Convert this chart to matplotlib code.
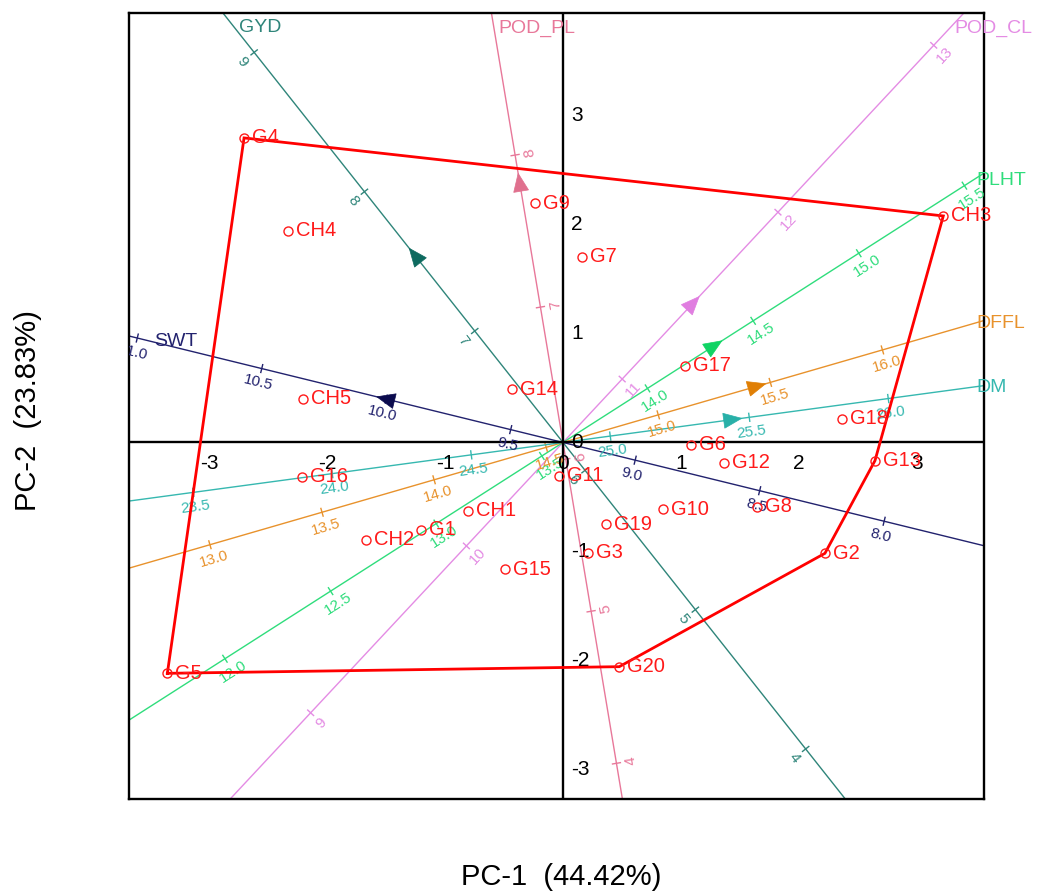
import numpy as np
import matplotlib
matplotlib.use("Agg")
import matplotlib.pyplot as plt
from matplotlib.patches import Polygon
from matplotlib.transforms import offset_copy

plt.rcParams['font.family'] = ['Liberation Sans', 'DejaVu Sans']

# Genotype scores on the first two principal components
genotypes = ["G1", "G2", "G3", "G4", "G5", "G6", "G7", "G8", "G9", "G10",
             "G11", "G12", "G13", "G14", "G15", "G16", "G17", "G18", "G19", "G20",
             "CH1", "CH2", "CH3", "CH4", "CH5"]
pc1 = [-1.201, 2.220, 0.215, -2.703, -3.353, 1.082, 0.158, 1.641, -0.240, 0.845,
       -0.031, 1.364, 2.644, -0.430, -0.494, -2.212, 1.034, 2.362, 0.362, 0.477,
       -0.805, -1.672, 3.223, -2.331, -2.203]
pc2 = [-0.803, -1.017, -1.011, 2.794, -2.118, -0.023, 1.705, -0.589, 2.194, -0.613,
       -0.307, -0.185, -0.167, 0.488, -1.163, -0.314, 0.702, 0.216, -0.751, -2.057,
       -0.628, -0.894, 2.078, 1.943, 0.399]

# Trait vectors and their calibrated axes
traits = ["GYD", "POD_PL", "POD_CL", "PLHT", "DFFL", "DM", "SWT"]
trait_pc1 = [-1.250, -0.366, 1.096, 1.275, 1.636, 1.430, -1.495]
trait_pc2 = [1.709, 2.378, 1.271, 0.883, 0.513, 0.209, 0.397]
trait_center = [6.20, 6.11, 10.62, 13.60, 14.575, 24.83, 9.29]   # value at the origin
trait_unit_len = [1.5835, 1.4115, 2.0215, 2.178, 1.991, 2.381, 2.183]  # biplot length per trait unit
trait_ticks = [
    [4, 5, 6, 7, 8, 9],
    [4, 5, 6, 7, 8],
    [9, 10, 11, 12, 13],
    [12.0, 12.5, 13.0, 13.5, 14.0, 14.5, 15.0, 15.5],
    [13.0, 13.5, 14.0, 14.5, 15.0, 15.5, 16.0],
    [23.5, 24.0, 24.5, 25.0, 25.5, 26.0],
    [8.0, 8.5, 9.0, 9.5, 10.0, 10.5, 11.0],
]
trait_decimals = [0, 0, 0, 1, 1, 1, 1]
line_colors = ["#2f857a", "#e8789a", "#e48ce4", "#2fdd7c", "#e8922c", "#36b8b0", "#22226e"]
arrow_colors = ["#0e6a5f", "#e0708e", "#e07ee0", "#10d464", "#e07f05", "#28b0a8", "#0b0b4e"]

axis_ticks = [-3, -2, -1, 0, 1, 2, 3]
xlim = (-3.678, 3.568)
ylim = (-3.271, 3.940)

fig = plt.figure(figsize=(10.4, 8.91), dpi=100)
ax = fig.add_axes([129 / 1040, 92 / 891, 855 / 1040, 786 / 891])
ax.set_xlim(*xlim)
ax.set_ylim(*ylim)
ax.set_xticks([])
ax.set_yticks([])
for sp in ax.spines.values():
    sp.set_linewidth(1.7)
    sp.set_color("black")


def to_disp(p):
    return ax.transData.transform(p)


def to_data(p):
    return ax.transData.inverted().transform(p)


origin_d = to_disp((0.0, 0.0))

# Trait axes
label_left = (150 - 563) / 118
label_right = (972 - 563) / 118
label_top = (442.5 - 28) / 109
for k, name in enumerate(traits):
    v = np.array([trait_pc1[k], trait_pc2[k]])
    u = v / np.linalg.norm(v)
    col = line_colors[k]
    ax.plot([-12 * u[0], 12 * u[0]], [-12 * u[1], 12 * u[1]], color=col, lw=1.0, zorder=2)

    d = to_disp(u) - origin_d
    d = d / np.linalg.norm(d)
    perp = np.array([-d[1], d[0]])
    ang = np.degrees(np.arctan2(d[1], d[0]))
    while ang <= -60:
        ang += 180
    while ang > 120:
        ang -= 180
    a = np.radians(ang)
    down = np.array([np.sin(a), -np.cos(a)])

    for val in trait_ticks[k]:
        p = (val - trait_center[k]) * trait_unit_len[k] * u
        pd = to_disp(p)
        seg = np.array([to_data(pd + 4 * perp), to_data(pd - 4 * perp)])
        ax.plot(seg[:, 0], seg[:, 1], color=col, lw=1.0, zorder=2)
        lp = to_data(pd + 15 * down)
        txt = f"{val:.{trait_decimals[k]}f}"
        ax.text(lp[0], lp[1], txt, color=col, fontsize=11, rotation=ang,
                rotation_mode="anchor", ha="center", va="center", zorder=3,
                clip_on=True)

    # arrow head at the trait vector
    cd = to_disp(v)
    tri = [to_data(cd + 10 * d), to_data(cd - 8 * d + 7.5 * perp), to_data(cd - 8 * d - 7.5 * perp)]
    ax.add_patch(Polygon(tri, closed=True, facecolor=arrow_colors[k], edgecolor=arrow_colors[k],
                         lw=0.5, zorder=4))

    # trait name at the positive end of its axis
    ts = []
    if u[0] > 0:
        ts.append(label_right / u[0])
    else:
        ts.append(label_left / u[0])
    if u[1] > 0:
        ts.append(label_top / u[1])
    t = min(ts)
    ep = t * u
    ax.text(ep[0], ep[1], name, color=col, fontsize=14, ha="left", va="center",
            transform=offset_copy(ax.transData, fig, x=4, y=0, units="dots"),
            clip_on=False, zorder=3)

# Zero lines and their numbers
ax.axhline(0, color="black", lw=1.7, zorder=2.5)
ax.axvline(0, color="black", lw=1.7, zorder=2.5)
tx = offset_copy(ax.transData, fig, x=0, y=-21, units="dots")
ty = offset_copy(ax.transData, fig, x=8, y=0, units="dots")
for v in axis_ticks:
    ax.text(v, 0, str(v), transform=tx, ha="center", va="center", fontsize=15, color="black", zorder=3)
    ax.text(0, v, str(v), transform=ty, ha="left", va="center", fontsize=15, color="black", zorder=3)

# Convex hull of the genotype scores
pts = sorted(zip(pc1, pc2))


def cross(o, a, b):
    return (a[0] - o[0]) * (b[1] - o[1]) - (a[1] - o[1]) * (b[0] - o[0])


lower, upper = [], []
for p in pts:
    while len(lower) >= 2 and cross(lower[-2], lower[-1], p) <= 0:
        lower.pop()
    lower.append(p)
for p in reversed(pts):
    while len(upper) >= 2 and cross(upper[-2], upper[-1], p) <= 0:
        upper.pop()
    upper.append(p)
hull = np.array(lower[:-1] + upper[:-1] + [lower[0]])
ax.plot(hull[:, 0], hull[:, 1], color="#ff0000", lw=2.0, zorder=5, solid_joinstyle="miter")

# Genotype markers and names
ax.plot(pc1, pc2, "o", mfc="none", mec="#ff1a1a", ms=6.5, mew=1.0, zorder=6)
gl = offset_copy(ax.transData, fig, x=8, y=0, units="dots")
for name, x, y in zip(genotypes, pc1, pc2):
    ax.text(x, y, name, color="#ff1a1a", fontsize=14.5, ha="left", va="center",
            transform=gl, zorder=6)

fig.text(561 / 1040, 1 - 877 / 891, "PC-1  (44.42%)", ha="center", va="center", fontsize=21)
fig.text(28 / 1040, 1 - 411 / 891, "PC-2  (23.83%)", ha="center", va="center", fontsize=21,
         rotation=90)

fig.savefig("out.png", dpi=100, facecolor="white")
